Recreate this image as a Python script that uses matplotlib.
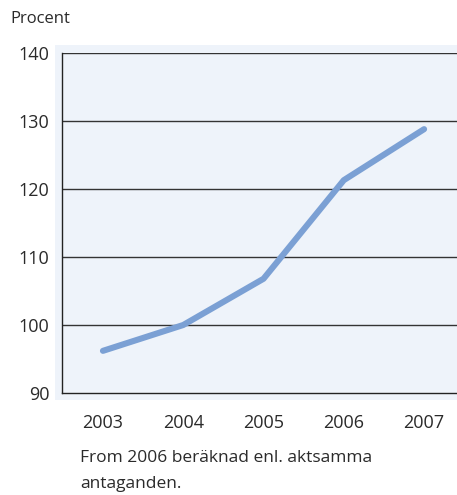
import matplotlib.pyplot as plt
from matplotlib.patches import Rectangle

# --- data ---
years = [2003, 2004, 2005, 2006, 2007]
values = [96.2, 100.0, 106.8, 121.3, 128.8]
y_ticks = [90, 100, 110, 120, 130, 140]

LINE_COLOR = "#7ba0d4"
PANEL_COLOR = "#eef3fa"

plt.rcParams['font.family'] = ['Open Sans', 'DejaVu Sans']

W, H = 457, 495
fig = plt.figure(figsize=(W / 100, H / 100), dpi=100)

# light panel behind the plot area (pixel box from the reference)
px0, py0, px1, py1 = 55, 45, 457, 400
fig.patches.append(Rectangle((px0 / W, 1 - py1 / H), (px1 - px0) / W, (py1 - py0) / H,
                             transform=fig.transFigure, facecolor=PANEL_COLOR,
                             edgecolor="none", zorder=-10))

ax0, ay0, ax1, ay1 = 62, 53, 457, 393
ax = fig.add_axes([ax0 / W, 1 - ay1 / H, (ax1 - ax0) / W, (ay1 - ay0) / H])
ax.set_facecolor("none")

ax.plot(years, values, color=LINE_COLOR, lw=4.4, solid_capstyle="round",
        solid_joinstyle="round", zorder=3)

ax.set_xlim(2002.49, 2007.41)
ax.set_ylim(90, 140)
ax.set_yticks(y_ticks)
ax.set_xticks(years)
ax.tick_params(length=0, labelsize=13, colors="#2a2a2a", pad=9)
ax.tick_params(axis="x", pad=15)

for y in y_ticks[1:]:
    ax.axhline(y, color="#333333", lw=1.0, zorder=2)

for side in ["top", "right"]:
    ax.spines[side].set_visible(False)
for side in ["left", "bottom"]:
    ax.spines[side].set_color("#222222")
    ax.spines[side].set_linewidth(1.0)

fig.text(10 / W, 1 - 19 / H, "Procent", fontsize=12, color="#2a2a2a", va="center")
fig.text(80 / W, 1 - 471 / H, "From 2006 beräknad enl. aktsamma\nantaganden.",
         fontsize=12.5, color="#2a2a2a", va="center", linespacing=1.9)

fig.savefig("out.png", dpi=100)
